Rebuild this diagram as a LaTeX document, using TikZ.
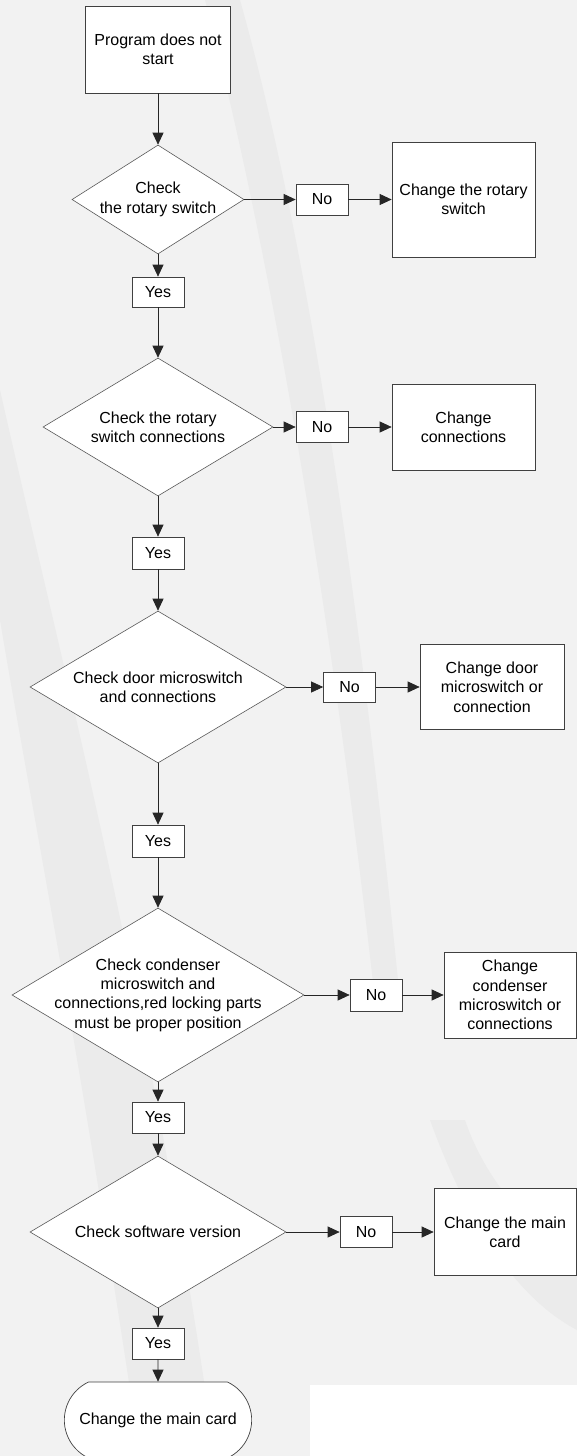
\documentclass[tikz,border=0pt]{standalone}
\usepackage{fontspec}
\setmainfont{Liberation Sans}
\usepackage{xcolor}
\usetikzlibrary{shapes.geometric,shapes.misc,arrows.meta}

\definecolor{paper}{RGB}{242,242,242}
\definecolor{swoosh}{RGB}{235,235,235}

\begin{document}
\begin{tikzpicture}[x=1pt,y=-1pt,
		every node/.style={font=\fontsize{16}{19.4}\selectfont,align=center},
		box/.style={draw=black!75,fill=white,line width=0.7pt,inner sep=2pt},
		check/.style={diamond,draw=black!65,fill=white,line width=0.6pt,inner sep=-14pt,aspect=1.6},
		tag/.style={draw=black!75,fill=white,line width=0.7pt,minimum width=52pt,minimum height=31pt,inner sep=0pt},
		arr/.style={draw=black!85,line width=0.7pt,-{Triangle[length=12pt,width=11pt]}}]
				\useasboundingbox (0,0) rectangle (577,1456);
				\fill[paper] (0,0) rectangle (577,1456);
				\fill[swoosh] (0,390) .. controls (70,700) and (150,1000) .. (215,1456) -- (140,1456) .. controls (80,1050) and (30,800) .. (0,620) -- cycle;
				\fill[swoosh] (240,0) .. controls (310,250) and (360,600) .. (400,1000) -- (375,1000) .. controls (330,600) and (270,250) .. (205,0) -- cycle;
				\fill[swoosh] (430,1120) .. controls (470,1230) and (520,1300) .. (577,1330) -- (577,1260) .. controls (530,1230) and (485,1180) .. (465,1120) -- cycle;
				\fill[white] (310,1385) rectangle (577,1456);
				
				\node[box,minimum width=145pt,minimum height=87pt] (start) at (158,49.5) {Program does not\\start};
				
				\node[check,minimum width=172pt,minimum height=109pt] (d1) at (158,199.5) {Check\\the rotary switch};
				\node[tag] (no1) at (322,199.5) {No};
				\node[box,minimum width=143pt,minimum height=115pt] (ch1) at (463.5,199.5) {Change the rotary\\switch};
				\node[tag,minimum height=30pt] (yes1) at (158,292) {Yes};
				
				\node[check,minimum width=230pt,minimum height=138pt] (d2) at (158,427) {Check the rotary\\switch connections};
				\node[tag] (no2) at (322,427) {No};
				\node[box,minimum width=143pt,minimum height=86pt] (ch2) at (463.5,427) {Change\\connections};
				\node[tag,minimum height=32pt] (yes2) at (158,553) {Yes};
				
				\node[check,minimum width=256pt,minimum height=152pt] (d3) at (158,687) {Check door microswitch\\and connections};
				\node[tag,minimum height=30pt] (no3) at (349.5,687) {No};
				\node[box,minimum width=144pt,minimum height=85pt] (ch3) at (492,687) {Change door\\microswitch or\\connection};
				\node[tag,minimum height=32pt] (yes3) at (158,841) {Yes};
				
				\node[check,minimum width=292pt,minimum height=174pt] (d4) at (158,995) {Check condenser\\microswitch and\\connections,red locking parts\\must be proper position};
				\node[tag,minimum height=32pt] (no4) at (376,995) {No};
				\node[box,minimum width=132pt,minimum height=86pt] (ch4) at (510,995) {Change\\condenser\\microswitch or\\connections};
				\node[tag] (yes4) at (158,1117.5) {Yes};
				
				\node[check,minimum width=256pt,minimum height=152pt] (d5) at (158,1232) {Check software version};
				\node[tag] (no5) at (366,1232) {No};
				\node[box,minimum width=142pt,minimum height=87pt] (ch5) at (505,1232) {Change the main\\card};
				\node[tag] (yes5) at (158,1343.5) {Yes};
				
				\node[rounded rectangle,rounded rectangle arc length=130,draw=black!75,fill=white,line width=0.7pt,minimum width=194pt,minimum height=76pt] (term) at (158,1420) {Change the main card};
				
				\draw[arr] (start) -- (d1);
				\foreach \i in {1,...,5} {
					\draw[arr] (d\i) -- (no\i);
					\draw[arr] (no\i) -- (ch\i);
					\draw[arr] (d\i) -- (yes\i);
				}
				\foreach \i/\j in {1/2,2/3,3/4,4/5} {
					\draw[arr] (yes\i) -- (d\j);
				}
				\draw[arr] (yes5) -- (term);
			\end{tikzpicture}
\end{document}
